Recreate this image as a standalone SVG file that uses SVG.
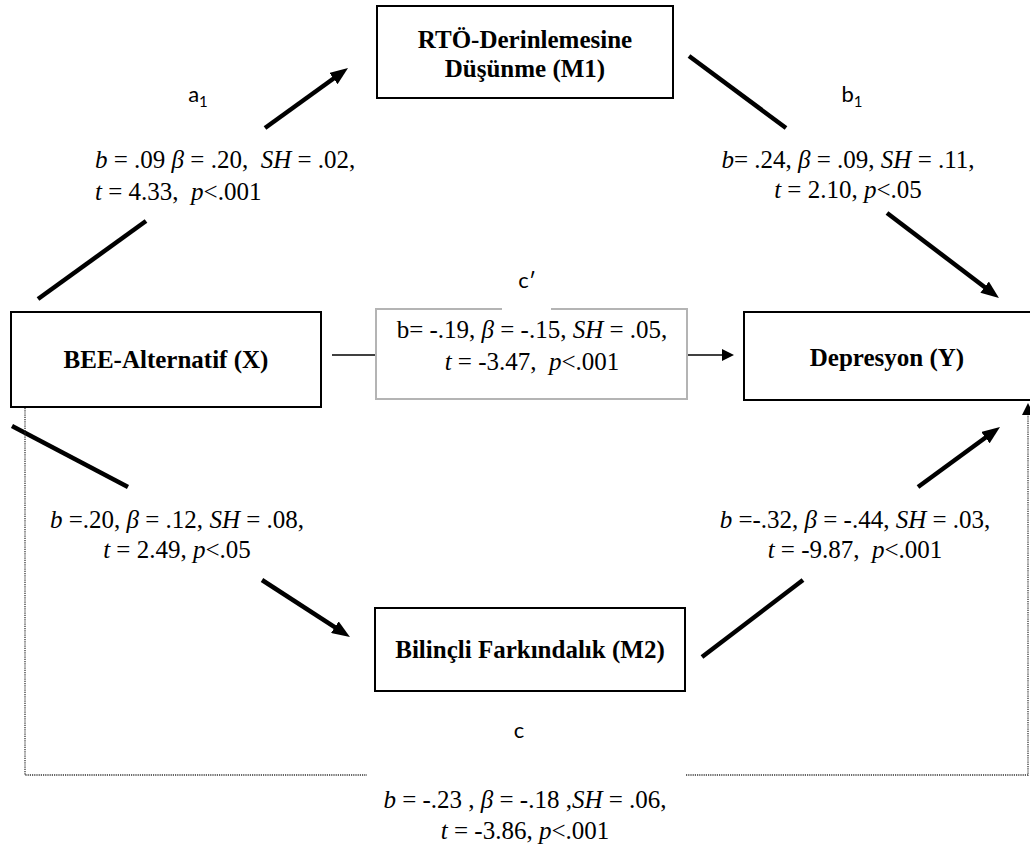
<svg xmlns="http://www.w3.org/2000/svg" width="1030" height="850" viewBox="0 0 1030 850">
  <style>
    .box { fill: #fff; stroke: #000; stroke-width: 2; }
    .gbox { fill: #fff; stroke: #b4b4b4; stroke-width: 2; }
    .node { font-family: "Liberation Serif", "Times New Roman", serif; font-weight: bold; font-size: 25px; text-anchor: middle; fill: #000; }
    .stat { font-family: "Liberation Serif", "Times New Roman", serif; font-size: 25px; fill: #000; white-space: pre; }
    .mid { text-anchor: middle; }
    .i { font-style: italic; }
    .plbl { font-family: Lato, "Open Sans", sans-serif; font-size: 22px; text-anchor: middle; fill: #000; }
    .thick { stroke: #000; stroke-width: 4.5; fill: none; }
    .thin { stroke: #000; stroke-width: 1.3; fill: none; }
    .dot { stroke: #333; stroke-width: 1.3; stroke-dasharray: 1.2 1; fill: none; }
  </style>
  <defs>
    <marker id="head" viewBox="0 0 18 14" refX="4" refY="7" markerWidth="18" markerHeight="14" markerUnits="userSpaceOnUse" orient="auto">
      <path d="M0,0 L18,7 L0,14 z" fill="#000"/>
    </marker>
    <marker id="headSmall" viewBox="0 0 12 12" refX="1" refY="6" markerWidth="12" markerHeight="12" markerUnits="userSpaceOnUse" orient="auto">
      <path d="M0,0 L12,6 L0,12 z" fill="#000"/>
    </marker>
  </defs>

  <!-- connectors -->
  <g id="connectors">
    <!-- a1: X to M1 -->
    <line class="thick" x1="38" y1="299" x2="146" y2="221"/>
    <line class="thick" x1="265" y1="128" x2="336.7" y2="76.2" marker-end="url(#head)"/>
    <!-- b1: M1 to Y -->
    <line class="thick" x1="689" y1="56" x2="786" y2="128"/>
    <line class="thick" x1="887" y1="213" x2="987.8" y2="289.5" marker-end="url(#head)"/>
    <!-- a2: X to M2 -->
    <line class="thick" x1="12" y1="426" x2="128" y2="487"/>
    <line class="thick" x1="262" y1="580" x2="338.2" y2="629.4" marker-end="url(#head)"/>
    <!-- b2: M2 to Y -->
    <line class="thick" x1="702" y1="657" x2="803" y2="580"/>
    <line class="thick" x1="918" y1="487" x2="988.7" y2="435.3" marker-end="url(#head)"/>
    <!-- c': direct effect -->
    <line class="thin" x1="332" y1="355" x2="376" y2="355"/>
    <line class="thin" x1="687" y1="355" x2="723" y2="355" marker-end="url(#headSmall)"/>
    <!-- c: total effect (dotted) -->
    <polyline class="dot" points="25,408 25,775 367,775"/>
    <polyline class="dot" points="686,775 1028,775 1028,414" marker-end="url(#headSmall)"/>
  </g>

  <!-- path labels -->
  <g id="path-labels">
    <text class="plbl" x="198" y="102">a<tspan font-size="15" dy="5">1</tspan></text>
    <text class="plbl" x="852" y="102">b<tspan font-size="15" dy="5">1</tspan></text>
    <text class="plbl" x="527" y="288">c′</text>
    <text class="plbl" x="519" y="738">c</text>
  </g>

  <!-- coefficients -->
  <g id="stats-a1">
    <text class="stat" x="95" y="168"><tspan class="i">b</tspan> = .09 <tspan class="i">β</tspan> = .20,  <tspan class="i">SH</tspan> = .02,</text>
    <text class="stat" x="95" y="200"><tspan class="i">t</tspan> = 4.33,  <tspan class="i">p</tspan>&lt;.001</text>
  </g>
  <g id="stats-b1">
    <text class="stat mid" x="848" y="168"><tspan class="i">b</tspan>= .24, <tspan class="i">β</tspan> = .09, <tspan class="i">SH</tspan> = .11,</text>
    <text class="stat mid" x="848" y="198"><tspan class="i">t</tspan> = 2.10, <tspan class="i">p</tspan>&lt;.05</text>
  </g>
  <g id="stats-a2">
    <text class="stat mid" x="177" y="528"><tspan class="i">b</tspan> =.20, <tspan class="i">β</tspan> = .12, <tspan class="i">SH</tspan> = .08,</text>
    <text class="stat mid" x="177" y="558"><tspan class="i">t</tspan> = 2.49, <tspan class="i">p</tspan>&lt;.05</text>
  </g>
  <g id="stats-b2">
    <text class="stat mid" x="855" y="528"><tspan class="i">b</tspan> =-.32, <tspan class="i">β</tspan> = -.44, <tspan class="i">SH</tspan> = .03,</text>
    <text class="stat mid" x="855" y="558"><tspan class="i">t</tspan> = -9.87,  <tspan class="i">p</tspan>&lt;.001</text>
  </g>
  <g id="stats-c">
    <text class="stat mid" x="525" y="808"><tspan class="i">b</tspan> = -.23 , <tspan class="i">β</tspan> = -.18 ,<tspan class="i">SH</tspan> = .06,</text>
    <text class="stat mid" x="525" y="839"><tspan class="i">t</tspan> = -3.86, <tspan class="i">p</tspan>&lt;.001</text>
  </g>

  <!-- c' coefficient box -->
  <g id="stats-cprime">
    <path class="gbox" d="M502,309 H376 V399 H687 V309 H551"/>
    <text class="stat mid" x="532" y="338">b= -.19, <tspan class="i">β</tspan> = -.15, <tspan class="i">SH</tspan> = .05,</text>
    <text class="stat mid" x="532" y="370"><tspan class="i">t</tspan> = -3.47,  <tspan class="i">p</tspan>&lt;.001</text>
  </g>

  <!-- nodes -->
  <g id="node-m1">
    <rect class="box" x="377" y="6" width="296" height="92"/>
    <text class="node" x="525" y="48">RTÖ-Derinlemesine</text>
    <text class="node" x="525" y="77">Düşünme (M1)</text>
  </g>
  <g id="node-x">
    <rect class="box" x="11" y="312" width="310" height="95"/>
    <text class="node" x="166" y="368">BEE-Alternatif (X)</text>
  </g>
  <g id="node-y">
    <rect class="box" x="744" y="312" width="300" height="88"/>
    <text class="node" x="887" y="366">Depresyon (Y)</text>
  </g>
  <g id="node-m2">
    <rect class="box" x="375" y="608" width="310" height="83"/>
    <text class="node" x="530" y="658">Bilinçli Farkındalık (M2)</text>
  </g>
</svg>
